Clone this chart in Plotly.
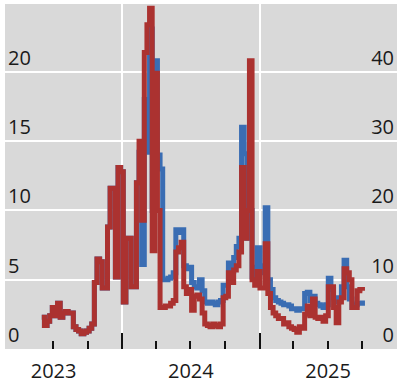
import pandas as pd
import plotly.graph_objects as go

# weekly observations starting 2023-06-01
dates = pd.date_range("2023-06-01", periods=123, freq="7D")

# blue series (left axis)
blue = [2.3, 1.7, 2.0, 2.4, 3.0, 2.4, 3.3, 2.3, 2.6, 2.7,
        2.6, 2.6, 1.6, 1.4, 1.3, 1.1, 1.2, 1.3, 1.5, 1.8,
        4.8, 6.5, 6.3, 4.4, 4.4, 8.8, 11.6, 11.6, 5.2, 13.1,
        12.8, 3.4, 8.0, 8.0, 4.5, 4.5, 12.0, 14.2, 6.1, 18.0,
        14.2, 23.1, 10.0, 20.8, 14.0, 13.0, 5.0, 5.0, 5.1, 5.2,
        5.5, 8.6, 8.4, 8.6, 6.0, 5.8, 5.9, 4.8, 4.5, 4.4,
        5.0, 4.2, 3.4, 3.3, 3.4, 3.3, 3.2, 3.4, 3.5, 4.6,
        4.6, 6.2, 5.6, 6.6, 7.4, 8.0, 16.0, 14.1, 8.0, 10.0,
        5.2, 5.9, 7.3, 5.5, 6.0, 10.2, 5.0, 4.3, 3.7, 3.5,
        3.4, 3.3, 3.2, 3.2, 3.1, 2.9, 2.9, 2.8, 2.9, 2.9,
        4.0, 4.1, 3.5, 3.8, 3.3, 3.2, 3.1, 3.0, 3.2, 5.1,
        4.3, 3.7, 3.4, 3.7, 4.5, 6.4, 4.5, 3.6, 3.0, 3.2,
        3.3, 3.3, 3.5]

# red series (right axis)
red = [4.6, 3.4, 4.0, 4.8, 6.0, 4.8, 6.6, 4.6, 5.2, 5.4,
       5.2, 5.2, 3.2, 2.8, 2.6, 2.2, 2.4, 2.6, 3.0, 3.6,
       9.6, 13.0, 12.6, 8.8, 8.8, 17.6, 23.2, 23.2, 10.4, 26.2,
       25.6, 6.8, 16.0, 16.0, 9.0, 9.0, 24.0, 30.0, 18.6, 42.8,
       46.8, 49.2, 14.2, 39.8, 20.0, 6.0, 6.0, 6.2, 6.2, 6.6,
       7.0, 14.0, 14.6, 15.4, 9.0, 8.0, 8.6, 5.6, 7.6, 7.8,
       7.2, 5.2, 3.6, 3.4, 3.2, 3.6, 3.4, 3.2, 3.6, 7.4,
       7.6, 11.0, 9.6, 11.4, 12.0, 14.0, 26.2, 16.0, 20.0, 41.6,
       10.0, 9.2, 11.2, 8.8, 8.8, 15.2, 8.0, 6.0, 5.2, 4.8,
       4.4, 4.4, 3.6, 3.8, 3.2, 3.0, 2.8, 2.4, 3.2, 3.0,
       5.0, 6.2, 4.8, 7.2, 4.6, 4.4, 4.6, 4.0, 4.8, 9.0,
       9.0, 6.0, 3.8, 6.8, 7.4, 11.6, 11.0, 10.0, 6.0, 6.0,
       8.4, 8.6, 8.4]

left_ticks = [0, 5, 10, 15, 20]
right_ticks = [0, 10, 20, 30, 40]

BLUE = "#3a6db3"
RED = "#ab3230"
FONT = dict(family="Open Sans", size=20, color="#1a1a1a")

fig = go.Figure()
fig.add_trace(go.Scatter(x=dates, y=blue, mode="lines",
                         line=dict(color=BLUE, width=5, shape="hv"),
                         xaxis="x", yaxis="y", showlegend=False,
                         hoverinfo="skip"))
fig.add_trace(go.Scatter(x=dates, y=red, mode="lines",
                         line=dict(color=RED, width=5, shape="hv"),
                         xaxis="x", yaxis="y2", showlegend=False,
                         hoverinfo="skip"))

fig.update_layout(
    width=397, height=381,
    margin=dict(l=5, r=0, t=4, b=32),
    paper_bgcolor="white",
    plot_bgcolor="#d9d9d9",
    font=FONT,
    xaxis=dict(
        range=["2023-02-23", "2026-01-02"],
        type="date", automargin=False,
        dtick="M12", tick0="2023-01-01",
        tickformat="%Y", ticklabelmode="period",
        ticks="inside", ticklen=16, tickwidth=2, tickcolor="#111",
        ticklabelstandoff=8,
        showgrid=True, gridcolor="white", gridwidth=2,
        zeroline=False, showline=False,
        minor=dict(dtick="M3", tick0="2023-01-01", ticks="inside",
                   ticklen=8, tickwidth=1.5, tickcolor="#111", showgrid=False),
        tickfont=FONT,
    ),
    yaxis=dict(
        range=[0, 24.9], automargin=False,
        tickmode="array", tickvals=left_ticks,
        ticklabelposition="inside top",
        ticks="", showgrid=False, zeroline=False, showline=False,
        minor=dict(tickmode="array", tickvals=left_ticks[1:], showgrid=True,
                   gridcolor="white", gridwidth=2, ticks=""),
        tickfont=FONT,
    ),
    yaxis2=dict(
        range=[0, 49.8], overlaying="y", side="right", automargin=False,
        tickmode="array", tickvals=right_ticks,
        ticklabelposition="inside top",
        ticks="", showgrid=False, zeroline=False, showline=False,
        tickfont=FONT,
    ),
)

fig.write_html("out.html", config={"displayModeBar": False},
               post_script="document.body.style.margin='0';")
